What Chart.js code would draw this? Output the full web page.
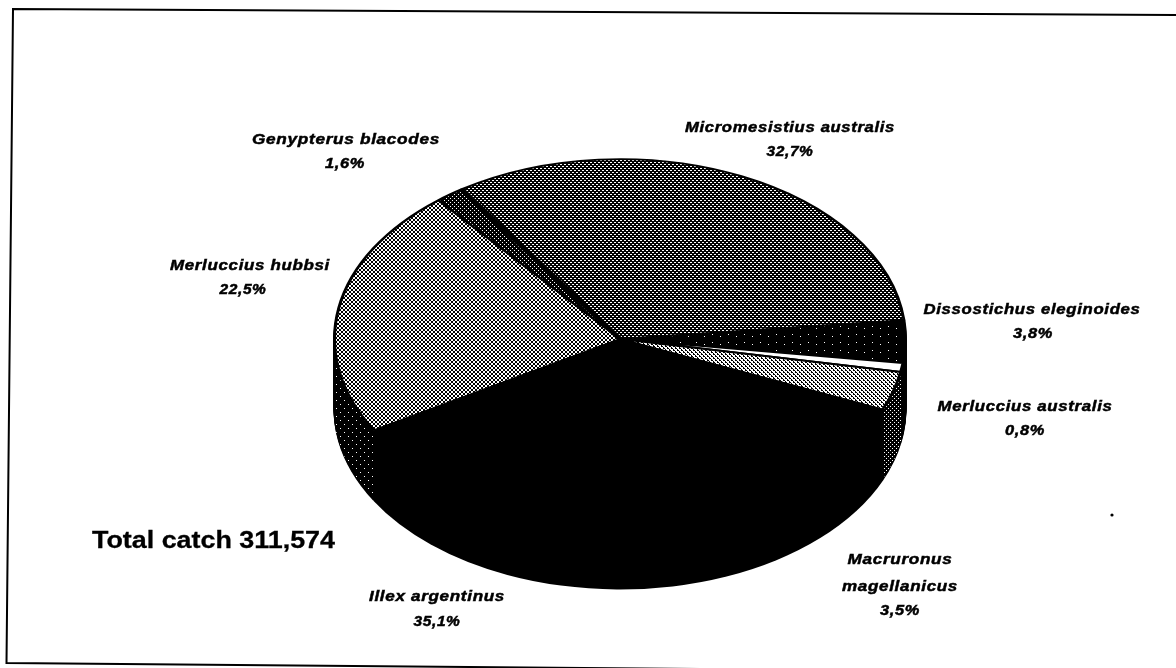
<!DOCTYPE html>
<html><head><meta charset="utf-8">
<style>html,body{margin:0;padding:0;background:#fff}canvas{display:block}</style>
<script src="https://cdn.jsdelivr.net/npm/chart.js@4"></script></head>
<body><canvas id="c" width="1176" height="668"></canvas>
<script>
const species = ["Dissostichus eleginoides","Merluccius australis","Macruronus magellanicus","Illex argentinus","Merluccius hubbsi","Genypterus blacodes","Micromesistius australis"];
const shares = [3.8,0.8,3.5,35.1,22.5,1.6,32.7];
const shareLabels = ["3,8%","0,8%","3,5%","35,1%","22,5%","1,6%","32,7%"];
const totalLabel = "Total catch 311,574";

const SQUASH = 0.63, CX = 620, CY = 339, DEPTH = 70;
const labelLayout = [
 {lines:[["Dissostichus eleginoides",217]],x:1032,y:310,px:1033,py:334,pw:40},
 {lines:[["Merluccius australis",175]],x:1025,y:407,px:1025,py:431,pw:40},
 {lines:[["Macruronus",105],["magellanicus",116]],x:900,y:560,px:900,py:611,pw:40},
 {lines:[["Illex argentinus",136]],x:437,y:597,px:437,py:622,pw:47},
 {lines:[["Merluccius hubbsi",160]],x:250,y:266,px:243,py:290,pw:47},
 {lines:[["Genypterus blacodes",188]],x:346,y:140,px:345,py:164,pw:40},
 {lines:[["Micromesistius australis",210]],x:790,y:128,px:790,py:152,pw:47}
];
function pat(rows){
  const h=rows.length,w=rows[0].length,c=document.createElement('canvas');c.width=w;c.height=h;
  const g=c.getContext('2d');g.fillStyle='#000';g.fillRect(0,0,w,h);g.fillStyle='#fff';
  rows.forEach((r,y)=>[...r].forEach((b,x)=>{if(b==='1')g.fillRect(x,y,1,1)}));
  return c;
}
const ctx0=document.getElementById('c').getContext('2d');
const mk=r=>ctx0.createPattern(pat(r),'repeat');
const sparse=mk(["10000000","00000000","00000000","00000000","00001000","00000000","00000000","00000000"]);
const topFill=[
 mk(["1000000000000000","0000000000000000","0000000000000000","0000000000000000","0000000000000000","0000000000000000","0000000010000000","0000000000000000"]),
 '#ffffff',
 mk(["0110","1011","1001","1110"]),
 '#000000',
 mk(["1001","0110","0110","1001"]),
 mk(["1000","0000","0010","0000"]),
 mk(["1100","0000","0011","0000"])
];
const sideFill=['#000000','#000000',mk(["1000","0000","0010","0000"]),'#000000',sparse,'#000000','#000000'];
const patterns=[...topFill,...sideFill].filter(p=>typeof p!=='string');

function fitText(ctx,t,x,y,w){
  const s=w/ctx.measureText(t).width;
  ctx.save();ctx.translate(x,y);ctx.scale(s,1);
  ctx.strokeText(t,0,0);ctx.fillText(t,0,0);
  ctx.restore();
}
const squashPie={
  id:'squashPie',
  beforeDatasetsDraw(chart){
    const ctx=chart.ctx, arcs=chart.getDatasetMeta(0).data;
    const {x,y}=arcs[0].getProps(['x','y'],true);
    for(let d=DEPTH;d>=1;d--){
      arcs.forEach((a,i)=>{
        const p=a.getProps(['startAngle','endAngle','outerRadius'],true);
        ctx.save();
        ctx.translate(CX,CY+d);ctx.scale(1,SQUASH);
        ctx.beginPath();ctx.moveTo(0,0);ctx.arc(0,0,p.outerRadius+1,p.startAngle,p.endAngle);ctx.closePath();
        ctx.restore();
        ctx.fillStyle=(d>=DEPTH-1)?'#000':sideFill[i];
        ctx.imageSmoothingEnabled=false;
        ctx.fill();
      });
    }
    ctx.save();
    ctx.translate(CX,CY);ctx.scale(1,SQUASH);ctx.translate(-x,-y);
    ctx.imageSmoothingEnabled=false;
    const inv=ctx.getTransform().inverse();
    patterns.forEach(p=>p.setTransform(inv));
  },
  afterDatasetsDraw(chart){
    const ctx=chart.ctx;
    const a=chart.getDatasetMeta(0).data[5];
    const p=a.getProps(['x','y','endAngle','outerRadius'],true);
    ctx.beginPath();ctx.moveTo(p.x,p.y);
    ctx.lineTo(p.x+Math.cos(p.endAngle)*p.outerRadius,p.y+Math.sin(p.endAngle)*p.outerRadius);
    ctx.strokeStyle='#000';ctx.lineWidth=6;ctx.stroke();
    ctx.restore();
    // scanned page frame: slightly skewed, no right side
    ctx.save();
    ctx.strokeStyle='#000';ctx.lineWidth=2;ctx.lineJoin='miter';
    ctx.beginPath();ctx.moveTo(1176,15);ctx.lineTo(13,9);ctx.lineTo(6.5,663);ctx.lineTo(700,669);ctx.stroke();
    ctx.fillStyle='#000';ctx.beginPath();ctx.arc(1112,515,1.6,0,Math.PI*2);ctx.fill();
    // labels
    ctx.textAlign='center';ctx.textBaseline='middle';ctx.lineWidth=0.5;
    ctx.font='italic bold 15px "Liberation Sans"';ctx.letterSpacing='0.6px';
    labelLayout.forEach((l,i)=>{
      let y=l.y;
      l.lines.forEach(([t,w])=>{fitText(ctx,t,l.x,y,w);y+=27;});
      fitText(ctx,shareLabels[i],l.px,l.py,l.pw);
    });
    ctx.letterSpacing='0px';ctx.textAlign='left';ctx.lineWidth=0.3;
    ctx.font='bold 24px "Liberation Sans"';
    ctx.save();ctx.translate(92,541);ctx.scale(243/ctx.measureText(totalLabel).width,1);
    ctx.strokeText(totalLabel,0,0);ctx.fillText(totalLabel,0,0);ctx.restore();
    ctx.restore();
  }
};
new Chart(document.getElementById('c'),{
  type:'pie',
  data:{labels:species,datasets:[{data:shares,backgroundColor:topFill,borderColor:'#000',borderWidth:3}]},
  options:{responsive:false,animation:false,rotation:84,
    layout:{padding:{left:333,right:269,top:47,bottom:47}},
    plugins:{legend:{display:false},tooltip:{enabled:false},title:{display:false}}},
  plugins:[squashPie]
});
</script></body></html>
